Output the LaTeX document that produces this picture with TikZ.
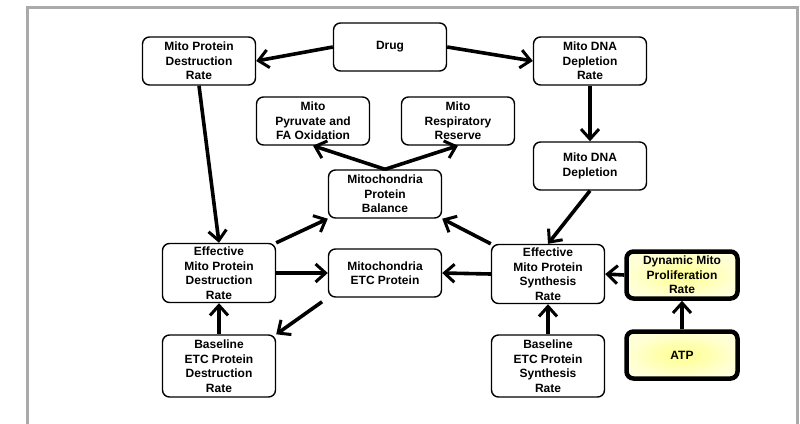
\documentclass[tikz,border=0pt]{standalone}
\usepackage{fontspec}
\setmainfont{Liberation Sans}
\usetikzlibrary{arrows.meta}
\begin{document}
\begin{tikzpicture}[x=1pt,y=-1pt,
    box/.style={draw,line width=1.4pt,rounded corners=7pt,fill=white,align=center,
        minimum width=113pt,minimum height=48pt,inner sep=1pt,
        font=\fontsize{12}{14.5}\selectfont\bfseries},
    hotbox/.style={box,line width=4.5pt,minimum width=111pt,minimum height=47pt,
        inner color={rgb,255:red,255;green,255;blue,140},
        outer color={rgb,255:red,255;green,255;blue,215}},
    link/.style={line width=3.6pt,-{Straight Barb[length=10pt,width=18pt,line width=3pt]}}]
                \useasboundingbox (0,0) rectangle (800,423);
                % Frame
                \draw[line width=3.5pt,color={rgb,255:red,170;green,170;blue,170}]
                    (27.5,430) -- (27.5,7.5) -- (797.5,7.5) -- (797.5,430);
                
                % Draw nodes
                \node[box] (drug) at (390,47) {Drug};
                \node[box] (mpdr) at (199,61) {Mito Protein\\Destruction\\Rate};
                \node[box] (mddr) at (590,61) {Mito DNA\\Depletion\\Rate};
                \node[box] (pyr) at (313,121) {Mito\\Pyruvate and\\FA Oxidation};
                \node[box] (resp) at (458,121) {Mito\\Respiratory\\Reserve};
                \node[box] (mdd) at (590,166) {Mito DNA\\Depletion};
                \node[box] (bal) at (385,194) {Mitochondria\\Protein\\Balance};
                \node[box,minimum height=59pt] (effd) at (219,273) {Effective\\Mito Protein\\Destruction\\Rate};
                \node[box] (etc) at (385,273) {Mitochondria\\ETC Protein};
                \node[box,minimum height=59pt] (effs) at (548,274) {Effective\\Mito Protein\\Synthesis\\Rate};
                \node[box,minimum height=62pt] (based) at (219,366) {Baseline\\ETC Protein\\Destruction\\Rate};
                \node[box,minimum height=62pt] (bases) at (548,366) {Baseline\\ETC Protein\\Synthesis\\Rate};
                \node[hotbox] (dyn) at (682,275) {Dynamic Mito\\Proliferation\\Rate};
                \node[hotbox] (atp) at (682,355) {ATP};
                
                % Draw edges
                \draw[link] (drug.west) -- (mpdr.east);
                \draw[link] (drug.east) -- (mddr.west);
                \draw[link] (mddr.south) -- (mdd.north);
                \draw[link] (mdd.south) -- (effs.north);
                \draw[link] (mpdr.south) -- (effd.north);
                \draw[link] (bal.north) -- (pyr.south);
                \draw[link] (bal.north) -- (resp.south);
                \draw[link] (effd.north east) -- (bal.south west);
                \draw[link] (effd.east) -- (etc.west);
                \draw[link,shorten <=7pt] (etc.south west) -- (based.north east);
                \draw[link] (effs.north west) -- (bal.south east);
                \draw[link] (effs.west) -- (etc.east);
                \draw[link] (based.north) -- (effd.south);
                \draw[link] (bases.north) -- (effs.south);
                \draw[link] (dyn.west) -- (effs.east);
                \draw[link] (atp.north) -- (dyn.south);
            \end{tikzpicture}
\end{document}
